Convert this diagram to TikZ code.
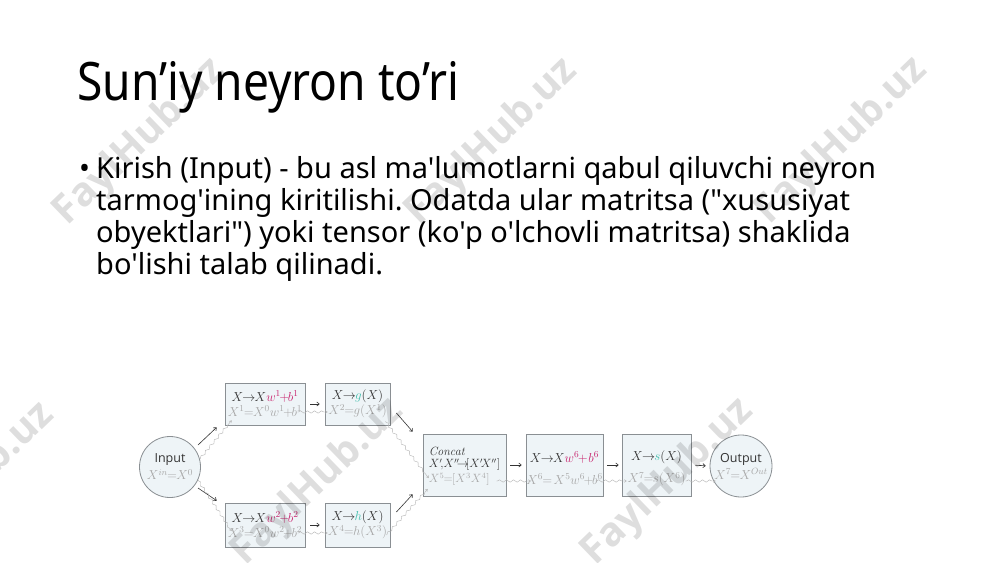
\RequirePackage{fix-cm}
\documentclass[tikz,border=0pt]{standalone}
\usepackage{fontspec}
\usetikzlibrary{decorations.pathmorphing,arrows.meta}
\newfontfamily\slidefont{Noto Sans}[FakeStretch=0.87]
\newfontfamily\bodyfont{Noto Sans}
\newfontfamily\labfont{Open Sans}
\newfontfamily\wmfont{Open Sans}
\definecolor{boxfill}{HTML}{EEF4F7}
\definecolor{boxline}{HTML}{8A8F93}
\definecolor{magc}{HTML}{C8246E}
\definecolor{tealc}{HTML}{45BFAE}
\definecolor{dkc}{HTML}{333333}
\definecolor{ltc}{HTML}{A8A8A8}
\tikzset{
  box/.style={draw=boxline, line width=0.8pt, fill=boxfill, inner sep=0pt, align=center,
    font=\fontsize{13}{15}\selectfont, text=dkc},
  circ/.style={circle, draw=boxline, line width=0.8pt, fill=boxfill, inner sep=0pt,
    minimum size=61pt, align=center, text=dkc, font=\fontsize{13}{15}\selectfont},
  darr/.style={-{To[length=3pt,width=4.5pt]}, line width=0.6pt, draw=dkc},
  warr/.style={draw=black!30, line width=0.4pt, decorate,
    decoration={snake, amplitude=1.2pt, segment length=7pt, pre length=1pt, post length=3pt},
    -{To[length=2.5pt,width=3pt]}},
  wm/.style={rotate=44, text=black, text opacity=0.13, font=\wmfont\bfseries\fontsize{40}{40}\selectfont},
  bodyline/.style={anchor=base west, inner sep=0pt, font=\bodyfont\fontsize{29}{32}\selectfont}
}
\begin{document}
\frenchspacing
\begin{tikzpicture}[x=1pt,y=-1pt]
\useasboundingbox (0,0) rectangle (1000,562);
\fill[white] (0,0) rectangle (1000,562);
% title and text
\node[anchor=base west, inner sep=0pt, font=\slidefont\fontsize{53}{60}\selectfont] (title) at (77,100) {Sun’iy neyron to’ri};
\node[bodyline] (bul) at (79,178) {•};
\node[bodyline] (l1) at (96,178) {Kirish (Input) - bu asl ma'lumotlarni qabul qiluvchi neyron};
\node[bodyline] (l2) at (96,210) {tarmog'ining kiritilishi. Odatda ular matritsa ("xususiyat};
\node[bodyline] (l3) at (96,242) {obyektlari") yoki tensor (ko'p o'lchovli matritsa) shaklida};
\node[bodyline] (l4) at (96,274) {bo'lishi talab qilinadi.};
% diagram nodes
\node[circ] (in) at (170,467) {{\labfont\fontsize{12.5}{12}\selectfont Input}\\[2pt]{\color{ltc}$X^{in}\!\!=\!\!X^0$}};
\node[box, minimum width=80pt, minimum height=42pt] (A) at (265,404)
  {$X\!\!\to\!\! X{\color{magc}w^1\!\!+\!\!b^1}$\\[0pt]{\color{ltc}$X^1\!\!=\!\!X^0w^1\!\!+\!\!b^1$}};
\node[box, minimum width=65pt, minimum height=42pt] (B) at (357.5,404)
  {$X\!\!\to\!\!{\color{tealc}g}(X)$\\[0pt]{\color{ltc}$X^2\!\!=\!\!g(X^1)$}};
\node[box, minimum width=80pt, minimum height=44pt] (C) at (265,525)
  {$X\!\!\to\!\! X{\color{magc}w^2\!\!+\!\!b^2}$\\[0pt]{\color{ltc}$X^3\!\!=\!\!X^0w^2\!\!+\!\!b^2$}};
\node[box, minimum width=65pt, minimum height=44pt] (D) at (357.5,525)
  {$X\!\!\to\!\!{\color{tealc}h}(X)$\\[0pt]{\color{ltc}$X^4\!\!=\!\!h(X^3)$}};
\node[box, minimum width=83pt, minimum height=62pt, align=left, font=\fontsize{12}{14}\selectfont] (E) at (464.5,465)
  {\rule{0pt}{11pt}\textit{Concat}\\[-2pt]$X'\!{,}X''\!\!\!\to\!\!\![X'\!X'']$\\[1pt]{\color{ltc}$X^5\!\!=\!\![X^3X^4]$}};
\node[box, minimum width=77pt, minimum height=62pt] (F) at (564.5,465)
  {\rule{0pt}{17pt}$X\!\!\to\!\! X{\color{magc}w^6\!\!+\!b^6}$\\[7pt]{\color{ltc}$X^6\!\!=\!X^5w^6\!\!+\!\!b^6$}};
\node[box, minimum width=69pt, minimum height=62pt] (G) at (656.5,465)
  {\rule{0pt}{17pt}$X\!\!\to\!\!{\color{tealc}s}(X)$\\[7pt]{\color{ltc}$X^7\!\!=\!\!s(X^6)$}};
\node[circ, minimum size=62pt] (out) at (741,466) {{\labfont\fontsize{12.5}{12}\selectfont Output}\\[2pt]{\color{ltc}$X^7\!\!=\!\!X^{Out}$}};
% dark arrows
\draw[darr] ([shift={(28,-22)}]in.center) -- ([shift={(-8,2)}]A.south west);
\draw[darr] ([shift={(28,21)}]in.center) -- ([shift={(-8,-2)}]C.north west);
\draw[darr, shorten <=5pt, shorten >=5pt] (A.east) -- (B.west);
\draw[darr, shorten <=5pt, shorten >=5pt] (C.east) -- (D.west);
\draw[darr] ([shift={(6,9)}]B.east) -- ([shift={(-10,-2)}]E.north west);
\draw[darr] ([shift={(6,-13)}]D.east) -- ([shift={(-10,-2)}]E.south west);
\draw[darr, shorten <=4pt, shorten >=4pt] (E.east) -- (F.west);
\draw[darr, shorten <=4pt, shorten >=3pt] (F.east) -- (G.west);
\draw[darr, shorten <=4pt, shorten >=4pt] (G.east) -- (out.west);
% wavy data-flow arrows
\draw[warr] (in.15) -- ([shift={(7,-5)}]A.south west);
\draw[warr] (in.-25) -- ([shift={(7,6)}]C.west);
\draw[warr] ([shift={(-8,8)}]A.east) -- ([shift={(3,8)}]B.west);
\draw[warr] ([shift={(-8,8)}]C.east) -- ([shift={(3,8)}]D.west);
\draw[warr] ([shift={(-5,-4)}]B.south east) -- ([shift={(6,13)}]E.west);
\draw[warr] ([shift={(-4,10)}]D.east) -- ([shift={(5,24)}]E.west);
\draw[warr] ([shift={(-10,16)}]E.east) -- ([shift={(5,16)}]F.west);
\draw[warr] ([shift={(-8,16)}]F.east) -- ([shift={(5,16)}]G.west);
\draw[warr] ([shift={(-6,16)}]G.east) -- ([shift={(6,15)}]out.west);
% watermarks
\node[wm] (wm1) at (140,142) {FaylHub.uz};
\node[wm] (wm2) at (492,142) {FaylHub.uz};
\node[wm] (wm3) at (842,141) {FaylHub.uz};
\node[wm] (wm4) at (-31,486) {FaylHub.uz};
\node[wm] (wm5) at (318,482) {FaylHub.uz};
\node[wm] (wm6) at (668,482) {FaylHub.uz};
\end{tikzpicture}
\end{document}
